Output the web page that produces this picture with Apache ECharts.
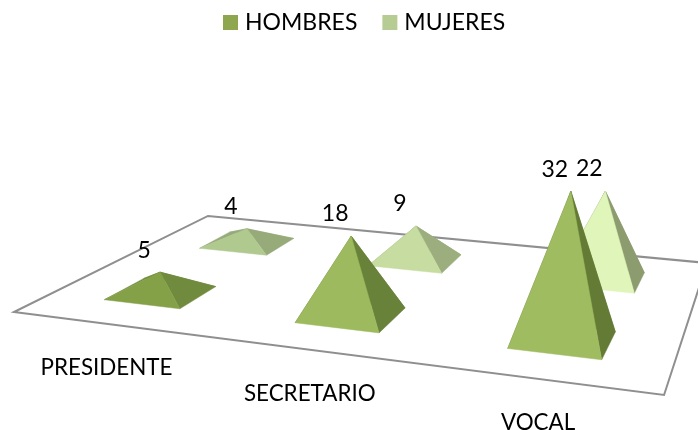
<!DOCTYPE html>
<html>
<head>
<meta charset="utf-8">
<script src="https://cdn.jsdelivr.net/npm/echarts@6/dist/echarts.min.js"></script>
<style>
html, body { margin: 0; padding: 0; background: #fff; }
#chart { width: 698px; height: 430px; }
</style>
</head>
<body>
<div id="chart"></div>
<script>
const categories = ['PRESIDENTE', 'SECRETARIO', 'VOCAL']
const hombres = [5, 18, 32]
const mujeres = [4, 9, 22]

const FONT = 'Lato, "Open Sans", sans-serif'

// face colours per category, the original shades each pyramid differently
const HOMBRES_FRONT = ['#84a147', '#9dbb5e', '#a0bc60']
const HOMBRES_SIDE = ['#708b3e', '#68823a', '#637b35']
const MUJERES_FRONT = ['#b0c98f', '#c6dca1', '#e0f5ba']
const MUJERES_SIDE = ['#97aa7a', '#9cae7d', '#8c9c6f']

// floor plane: factors of the projective map from the unit square (u along
// categories, v front to back) onto the picture
const FLOOR = { a: 543.8, b: 259.8, c: 14, d: 19.8, e: -27.7, f: 312, g: -0.16, h: 0.3164 }
const HALF_U = 0.068
const HALF_V = 0.095

function floorDen(u, v) {
  return FLOOR.g * u + FLOOR.h * v + 1
}

function project(u, v) {
  const w = floorDen(u, v)
  return [
    (FLOOR.a * u + FLOOR.b * v + FLOOR.c) / w,
    (FLOOR.d * u + FLOOR.e * v + FLOOR.f) / w,
  ]
}

function categoryU(api, params) {
  const cs = params.coordSys
  return (api.coord([api.value(0), 0])[0] - cs.x) / cs.width
}

function pyramidRenderer(depth, front, side) {
  return function (params, api) {
    const u = categoryU(api, params)
    const i = api.value(0)
    const center = project(u, depth)
    const height = api.size([0, api.value(1)])[1] / floorDen(u, depth)
    // verticals lean outward a little in the original's perspective
    const apex = [center[0] + height * (center[0] - 350) * 0.00026, center[1] - height]
    const left = project(u - HALF_U, depth - HALF_V)
    const near = project(u + HALF_U, depth - HALF_V)
    const right = project(u + HALF_U, depth + HALF_V)
    const back = project(u - HALF_U, depth + HALF_V)
    const face = (pts, fill) => ({
      type: 'polygon',
      shape: { points: pts },
      style: { fill, stroke: fill, lineWidth: 0.5 },
    })
    return {
      type: 'group',
      children: [
        face([left, back, apex], side[i]),
        face([back, right, apex], side[i]),
        face([near, right, apex], side[i]),
        face([left, near, apex], front[i]),
        {
          type: 'text',
          style: {
            x: apex[0] - 16,
            y: apex[1] - 22,
            text: String(api.value(1)),
            fill: '#000',
            font: '23px ' + FONT,
            align: 'center',
            verticalAlign: 'middle',
          },
        },
      ],
    }
  }
}

function renderFloor(params, api) {
  const label = project(categoryU(api, params), 0)
  const children = [{
    type: 'text',
    style: {
      x: label[0] - 1,
      y: label[1] + 44,
      text: categories[api.value(0)],
      fill: '#000',
      font: '22.4px ' + FONT,
      align: 'center',
      verticalAlign: 'middle',
    },
  }]
  if (params.dataIndex === 0) {
    children.unshift({
      type: 'polygon',
      shape: { points: [project(0, 0), project(1, 0), project(1, 1), project(0, 1)] },
      style: { fill: '#fff', stroke: '#8f8f8f', lineWidth: 2 },
    })
  }
  return { type: 'group', children }
}

const chart = echarts.init(document.getElementById('chart'), null, { renderer: 'canvas' })
chart.setOption({
  animation: false,
  backgroundColor: '#fff',
  legend: {
    data: ['HOMBRES', 'MUJERES'],
    top: 6,
    left: 218,
    icon: 'rect',
    itemWidth: 15,
    itemHeight: 15,
    itemGap: 25,
    textStyle: { color: '#000', fontSize: 23, fontFamily: FONT, padding: [0, 0, 0, 2] },
  },
  // only the scales are used, the floor map places them in the picture
  grid: { left: 0, right: 0, top: 0, height: 176 },
  xAxis: { type: 'category', data: categories, show: false },
  yAxis: { type: 'value', min: 0, max: 40, show: false },
  series: [
    {
      name: 'floor',
      type: 'custom',
      z: 1,
      silent: true,
      renderItem: renderFloor,
      encode: { x: 0, y: 1 },
      data: categories.map((c, i) => [i, 0]),
    },
    {
      name: 'MUJERES',
      type: 'custom',
      z: 2,
      itemStyle: { color: '#b6cc93' },
      renderItem: pyramidRenderer(0.75, MUJERES_FRONT, MUJERES_SIDE),
      encode: { x: 0, y: 1 },
      data: mujeres.map((v, i) => [i, v]),
    },
    {
      name: 'HOMBRES',
      type: 'custom',
      z: 3,
      itemStyle: { color: '#8ea64e' },
      renderItem: pyramidRenderer(0.25, HOMBRES_FRONT, HOMBRES_SIDE),
      encode: { x: 0, y: 1 },
      data: hombres.map((v, i) => [i, v]),
    },
  ],
})
</script>
</body>
</html>
